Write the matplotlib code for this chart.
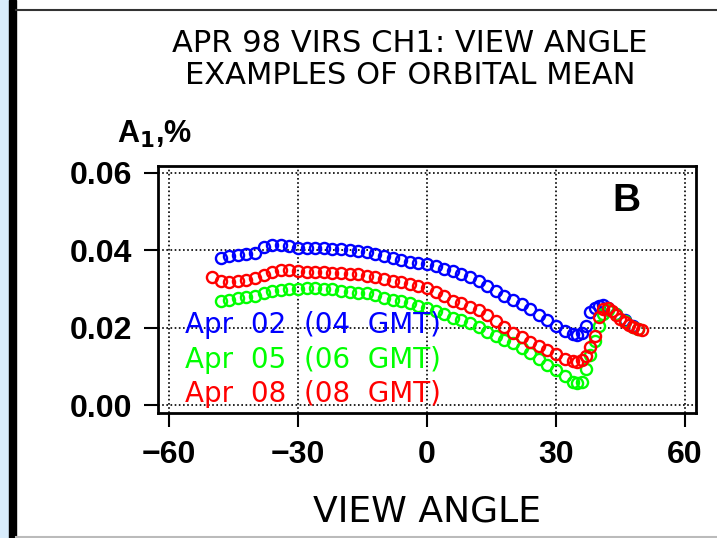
import numpy as np
import matplotlib
matplotlib.use("Agg")
import matplotlib.pyplot as plt
from matplotlib.patches import Rectangle
from matplotlib.lines import Line2D

plt.rcParams['font.family'] = ['Liberation Sans', 'DejaVu Sans']

# ---- data ----
blue_ang = [-48, -46, -44, -42, -40, -38, -36, -34, -32, -30, -28, -26, -24, -22,
            -20, -18, -16, -14, -12, -10, -8, -6, -4, -2, 0, 2, 4, 6, 8, 10, 12,
            14, 16, 18, 20, 22, 24, 26, 28, 30, 32, 34, 35, 36, 37, 38, 39, 40,
            41, 42, 44, 46, 48]
blue_val = [0.0380, 0.0385, 0.0388, 0.0390, 0.0392, 0.0408, 0.0414, 0.0413, 0.0410,
            0.0406, 0.0405, 0.0405, 0.0405, 0.0404, 0.0403, 0.0401, 0.0399, 0.0396,
            0.0390, 0.0384, 0.0379, 0.0375, 0.0371, 0.0367, 0.0364, 0.0359, 0.0353,
            0.0346, 0.0340, 0.0331, 0.0320, 0.0308, 0.0295, 0.0283, 0.0272, 0.0262,
            0.0248, 0.0234, 0.0220, 0.0204, 0.0192, 0.0183, 0.0181, 0.0186, 0.0205,
            0.0240, 0.0252, 0.0257, 0.0258, 0.0252, 0.0236, 0.0220, 0.0204]

green_ang = [-48, -46, -44, -42, -40, -38, -36, -34, -32, -30, -28, -26, -24, -22,
             -20, -18, -16, -14, -12, -10, -8, -6, -4, -2, 0, 2, 4, 6, 8, 10, 12,
             14, 16, 18, 20, 22, 24, 26, 28, 30, 32, 34, 35, 36, 37, 38, 39, 40,
             41, 42, 44, 46, 48, 49]
green_val = [0.0270, 0.0273, 0.0276, 0.0279, 0.0283, 0.0290, 0.0294, 0.0297, 0.0299,
             0.0301, 0.0302, 0.0302, 0.0301, 0.0299, 0.0296, 0.0293, 0.0291, 0.0289,
             0.0284, 0.0277, 0.0272, 0.0268, 0.0263, 0.0257, 0.0250, 0.0243, 0.0235,
             0.0226, 0.0220, 0.0212, 0.0202, 0.0190, 0.0179, 0.0169, 0.0160, 0.0148,
             0.0135, 0.0120, 0.0104, 0.0091, 0.0075, 0.0060, 0.0057, 0.0060, 0.0095,
             0.0130, 0.0165, 0.0205, 0.0235, 0.0245, 0.0235, 0.0218, 0.0203, 0.0197]

red_ang = [-50, -48, -46, -44, -42, -40, -38, -36, -34, -32, -30, -28, -26, -24,
           -22, -20, -18, -16, -14, -12, -10, -8, -6, -4, -2, 0, 2, 4, 6, 8, 10,
           12, 14, 16, 18, 20, 22, 24, 26, 28, 30, 32, 34, 35, 36, 37, 38, 39, 40,
           41, 42, 43, 44, 45, 46, 47, 48, 49, 50]
red_val = [0.0332, 0.0322, 0.0318, 0.0320, 0.0323, 0.0328, 0.0337, 0.0343, 0.0348,
           0.0348, 0.0346, 0.0345, 0.0345, 0.0344, 0.0342, 0.0341, 0.0340, 0.0338,
           0.0335, 0.0331, 0.0327, 0.0322, 0.0318, 0.0314, 0.0309, 0.0302, 0.0292,
           0.0281, 0.0270, 0.0263, 0.0255, 0.0245, 0.0233, 0.0219, 0.0203, 0.0188,
           0.0176, 0.0164, 0.0153, 0.0142, 0.0132, 0.0120, 0.0114, 0.0112, 0.0116,
           0.0128, 0.0150, 0.0180, 0.0228, 0.0248, 0.0250, 0.0243, 0.0232, 0.0222,
           0.0215, 0.0208, 0.0202, 0.0197, 0.0195]

labels = ['Apr  02  (04  GMT)', 'Apr  05  (06  GMT)', 'Apr  08  (08  GMT)']
colors = ['#0000ff', '#00ff00', '#ff0000']
xticks = [-60, -30, 0, 30, 60]
yticks = [0.00, 0.02, 0.04, 0.06]
ytick_labels = ['0.00', '0.02', '0.04', '0.06']

fig = plt.figure(figsize=(7.17, 5.38), dpi=100)

# page frame bits
fig.patches.append(Rectangle((0, 0), 9/717, 1, transform=fig.transFigure,
                             color='#d8ecfc', zorder=0))
fig.patches.append(Rectangle((9/717, 0), 7/717, 1, transform=fig.transFigure,
                             color='black', zorder=0))
fig.lines.append(Line2D([16/717, 1], [1-10/538, 1-10/538], transform=fig.transFigure,
                        color='#333333', lw=1.5))
fig.lines.append(Line2D([16/717, 1], [1.5/538, 1.5/538], transform=fig.transFigure,
                        color='#bbbbbb', lw=1.5))

ax = fig.add_axes([157.5/717, 1-412.7/538, 538.2/717, 247/538])

for ang, val, c in zip([blue_ang, green_ang, red_ang], [blue_val, green_val, red_val], colors):
    ax.plot(ang, val, 'o', mfc='none', mec=c, ms=8, mew=1.7, ls='none')

ax.set_xlim(-62.67, 62.5)
ax.set_ylim(-0.00186, 0.0618)
ax.set_xticks(xticks)
ax.set_xticklabels(['\u221260', '\u221230', '0', '30', '60'])
ax.set_yticks(yticks)
ax.set_yticklabels(ytick_labels)
ax.grid(True, color='black', ls=(0, (1, 1.5)), lw=1.2)
ax.tick_params(direction='out', length=10, width=1.5, labelsize=23)
ax.tick_params(axis='x', pad=10)
ax.tick_params(axis='y', pad=8)
for lab in ax.get_xticklabels() + ax.get_yticklabels():
    lab.set_fontweight('bold')
for s in ax.spines.values():
    s.set_linewidth(2)

# legend as coloured text
for i, (txt, c) in enumerate(zip(labels, colors)):
    ax.text(-56.3, [0.0187, 0.0097, 0.0009][i], txt, color=c, fontsize=20,
            va='baseline', ha='left', family='DejaVu Sans')

ax.text(46.3, 0.0527, 'B', fontsize=28, fontweight='bold', ha='center', va='center')

fig.text(0.572, 1-44/538, 'APR 98 VIRS CH1: VIEW ANGLE', ha='center', va='center',
         fontsize=22, family='DejaVu Sans')
fig.text(0.572, 1-75/538, 'EXAMPLES OF ORBITAL MEAN', ha='center', va='center',
         fontsize=22, family='DejaVu Sans')
fig.text(117/717, 1-143/538, r'A$_\mathbf{1}$,%', ha='left', va='baseline',
         fontsize=22, fontweight='bold')
fig.text(426.6/717, 1-511/538, 'VIEW ANGLE', ha='center', va='center', fontsize=26,
         family='DejaVu Sans')

fig.savefig('out.png', dpi=100)
